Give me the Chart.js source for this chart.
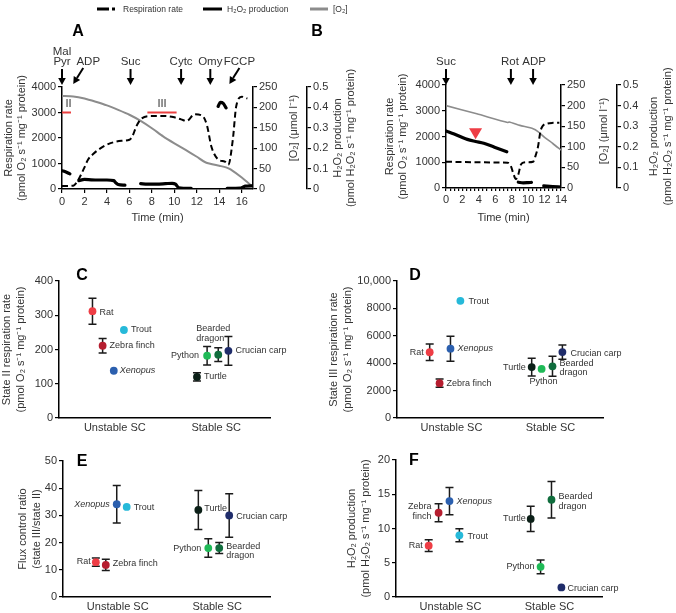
<!DOCTYPE html>
<html>
<head>
<meta charset="utf-8">
<script src="https://cdn.jsdelivr.net/npm/chart.js@4/dist/chart.umd.min.js"></script>
<style>
  body { margin: 0; background: #fff; width: 676px; height: 613px; overflow: hidden; position: relative; }
  canvas { position: absolute; left: 0; top: 0; }
</style>
</head>
<body>
<canvas id="cA" width="676" height="613"></canvas>
<canvas id="cB" width="676" height="613"></canvas>
<canvas id="cC" width="676" height="613"></canvas>
<canvas id="cD" width="676" height="613"></canvas>
<canvas id="cE" width="676" height="613"></canvas>
<canvas id="cF" width="676" height="613"></canvas>
<script>
// ---------- data: panel A traces ----------
const respTimeA = [0, 0.5, 1.0, 1.3, 1.6, 2.0, 2.3, 2.8, 3.2, 4.1, 5.3, 6.0, 6.3, 6.6, 7.1, 8.0, 9.2, 10.0, 10.6, 11.1, 11.8, 12.5, 12.9, 13.3, 13.9, 14.5, 14.8, 15.2, 15.5, 16.0, 16.5];
const respA     = [120, 120, 130, 250, 480, 850, 1140, 1380, 1530, 1760, 1890, 1930, 2100, 2440, 2770, 2860, 2860, 2810, 2730, 2670, 2930, 2870, 2500, 1660, 1160, 1070, 950, 1920, 3230, 3620, 3550];
const h2o2TimeA = [0, 0.35, 0.7, 1.1, 1.5, 2.0, 2.6, 3.2, 4.0, 4.6, 4.8, 5.0, 5.6, 6.3, 7.0, 7.6, 8.4, 9.2, 9.8, 10.1, 10.4, 11.5, 12.7, 13.9, 14.1, 14.35, 14.6, 14.62, 14.7, 15.9, 16.3, 17];
const h2o2A     = [0.090, 0.083, 0.074, null, 0.041, 0.047, 0.045, 0.044, 0.044, 0.041, 0.030, 0.022, 0.019, null, 0.026, 0.024, 0.024, 0.026, 0.028, 0.024, 0.006, 0.003, null, 0.405, 0.425, 0.42, 0.398, null, 0.003, 0.004, 0.014, 0.016];
const o2TimeA   = [0, 1, 2, 3, 4, 5, 6, 7, 8, 9, 10, 11, 12, 12.8, 14, 14.6, 15, 16, 17];
const o2A       = [228, 227, 222, 214, 205, 194, 182, 167, 149, 129, 112, 96, 79, 65, 57, 53, 48, 28, 5];
const eventTimesA  = [0, 1.0, 6.1, 10.6, 13.2, 14.9];
const eventLabelsA = [['Mal', 'Pyr'], ['ADP'], ['Suc'], ['Cytc'], ['Omy'], ['FCCP']];
const stateLabelsA = ['II', 'III'];
const stateStartA  = [0, 7.6];
const stateEndA    = [0.8, 10.2];
const stateLevelA  = 3000;

// ---------- data: panel B traces ----------
const respTimeB = [0, 2, 4, 6, 7.5, 7.9, 8.2, 8.5, 8.8, 9.1, 9.4, 10.0, 10.6, 10.9, 11.2, 11.5, 11.8, 12.3, 13.0, 13.8];
const respB     = [1020, 1010, 1000, 990, 985, 850, 560, 350, 520, 900, 985, 1000, 1020, 1250, 1600, 2200, 2420, 2500, 2530, 2535];
const h2o2TimeB = [0, 1, 2, 2.6, 3.6, 4.6, 5.9, 7.4, 8.1, 8.8, 9.4, 10.0, 10.4, 11.1, 11.9, 13, 14];
const h2o2B     = [0.277, 0.262, 0.245, 0.236, 0.226, 0.217, 0.198, 0.176, null, 0.028, 0.025, 0.026, 0.027, null, 0.010, 0.007, 0.004];
const o2TimeB   = [0, 3.75, 7.5, 7.7, 9, 10.6, 11.2, 12, 13, 14];
const o2B       = [200, 180, 159, 160, 152, 144, 137, 123, 108, 92];
const eventTimesB  = [0, 7.9, 10.6];
const eventLabelsB = [['Suc'], ['Rot'], ['ADP']];
const markerTimeB  = 3.6;
const markerLevelB = 0.232;

// ---------- data: panels C-F ----------
const groups   = ['Unstable SC', 'Stable SC'];
const species  = ['Rat', 'Zebra finch', 'Xenopus', 'Trout', 'Turtle', 'Python', 'Bearded dragon', 'Crucian carp'];
const speciesX = [0.78, 0.88, 0.99, 1.09, 1.81, 1.91, 2.02, 2.12];
const speciesColors = ['#ee3d45', '#b51d2f', '#2b5fae', '#26b9d9', '#0c2018', '#1fba57', '#106d3d', '#1f2c6a'];
const stateII     = [312, 211, 138, 257, 120, 182, 185, 196];
const stateIIErr  = [38, 21, 0, 0, 12, 27, 20, 42];
const stateIII    = [4800, 2540, 5060, 8550, 3720, 3580, 3770, 4810];
const stateIIIErr = [600, 300, 910, 0, 650, 0, 730, 520];
const fluxRatio    = [12.8, 11.8, 34.1, 33.1, 32.0, 18.0, 18.0, 30.0];
const fluxRatioErr = [1.5, 2.1, 6.9, 0, 7.2, 3.4, 2.0, 8.0];
const h2o2Rate    = [7.5, 12.3, 14.0, 9.0, 11.4, 4.4, 14.2, 1.4];
const h2o2RateErr = [0.85, 1.3, 2.0, 0.95, 1.85, 1.0, 2.65, 0];

// ---------- helpers ----------
const FONT = '"Liberation Sans", Arial, sans-serif';
const INK = '#333';
const W = 676, H = 613;
const RESP_T = ['Respiration rate', '(pmol O\u2082 s\u207B\u00B9 mg\u207B\u00B9 protein)'];
const O2_T = '[O\u2082] (\u03BCmol l\u207B\u00B9)';
const H2O2_T = ['H\u2082O\u2082 production', '(pmol H\u2082O\u2082 s\u207B\u00B9 mg\u207B\u00B9 protein)'];

const xy = (xs, ys) => xs.map((x, i) => ({ x: x, y: ys[i] }));

function txt(ctx, s, x, y, o) {
  o = o || {};
  ctx.save();
  ctx.font = (o.style || '') + ' ' + (o.weight || '') + ' ' + (o.size || 11) + 'px ' + FONT;
  ctx.fillStyle = o.color || INK;
  ctx.textAlign = o.align || 'center';
  ctx.textBaseline = 'middle';
  ctx.translate(x, y);
  if (o.rot) ctx.rotate(o.rot);
  ctx.fillText(s, 0, 0);
  ctx.restore();
}
function vtitle(ctx, lines, xs, y) {
  lines.forEach((l, i) => txt(ctx, l, xs[i], y, { rot: -Math.PI / 2 }));
}
function arrow(ctx, x0, y0, x1, y1) {
  const a = Math.atan2(y1 - y0, x1 - x0), L = 7, hw = 3.8;
  const bx = x1 - L * Math.cos(a), by = y1 - L * Math.sin(a);
  ctx.save();
  ctx.strokeStyle = '#000'; ctx.fillStyle = '#000'; ctx.lineWidth = 2;
  ctx.beginPath(); ctx.moveTo(x0, y0); ctx.lineTo(bx, by); ctx.stroke();
  ctx.beginPath(); ctx.moveTo(x1, y1);
  ctx.lineTo(bx - hw * Math.sin(a), by + hw * Math.cos(a));
  ctx.lineTo(bx + hw * Math.sin(a), by - hw * Math.cos(a));
  ctx.closePath(); ctx.fill();
  ctx.restore();
}

function yAxis(pos, min, max, step, width, fmt) {
  return {
    type: 'linear', position: pos, min: min, max: max,
    ticks: { stepSize: step, color: INK, font: { family: FONT, size: 11 }, padding: 2, includeBounds: false,
             callback: fmt || (v => String(v)) },
    grid: { drawOnChartArea: false, drawTicks: true, tickLength: 4, color: '#000', lineWidth: 1.2 },
    border: { display: true, color: '#000', width: 1.5 },
    afterFit: s => { s.width = width; }
  };
}
const fmtFrac = v => (v === 0 ? '0' : v.toFixed(1));

// ---------- trace panels (A, B) ----------
function traceChart(id, p) {
  const annot = {
    id: 'annot' + id,
    afterDraw(chart) {
      const ctx = chart.ctx, sx = chart.scales.x, sy = chart.scales.y, sh = chart.scales.yH;
      const ca = chart.chartArea, mid = (ca.top + ca.bottom) / 2;
      vtitle(ctx, RESP_T, p.titleL, mid);
      txt(ctx, O2_T, p.titleO, p.titleOY, { rot: -Math.PI / 2 });
      vtitle(ctx, H2O2_T, p.titleH, mid);
      txt(ctx, 'Time (min)', (ca.left + ca.right) / 2, 218);
      txt(ctx, p.letter[0], p.letter[1], p.letter[2], { size: 16, weight: 'bold', color: '#000' });
      p.evT.forEach((t, i) => {
        const x = sx.getPixelForValue(t), dx = p.evDx[i];
        const lab = p.evL[i];
        lab.forEach((s, k) => txt(ctx, s, x + dx, 62 - (lab.length - 1 - k) * 10.5, { size: 11.5 }));
        if (p.evDiag[i]) arrow(ctx, x + 10, 68, x, 84);
        else arrow(ctx, x, 69, x, 85);
      });
      if (p.extra) p.extra(ctx, sx, sy, sh);
    }
  };
  return new Chart(document.getElementById(id), {
    type: 'line',
    data: {
      datasets: [
        { label: 'Respiration rate', data: xy(p.respT, p.resp), yAxisID: 'y', borderColor: '#000', borderWidth: 2,
          borderDash: [6, 3.5], pointRadius: 0, cubicInterpolationMode: 'monotone', spanGaps: false },
        { label: 'H\u2082O\u2082 production', data: xy(p.hT, p.h), yAxisID: 'yH', borderColor: '#000', borderWidth: 3.2,
          pointRadius: 0, cubicInterpolationMode: 'monotone', spanGaps: false, borderCapStyle: 'round' },
        { label: '[O\u2082]', data: xy(p.oT, p.o), yAxisID: 'yO', borderColor: '#8c8c8c', borderWidth: p.o2w,
          pointRadius: 0, tension: 0.2, spanGaps: false }
      ]
    },
    options: {
      responsive: false, animation: false, events: [],
      layout: { padding: { left: p.area[0] - 40, top: p.area[2], right: W - p.area[1] - p.wO - 30, bottom: H - p.area[3] - 22 } },
      plugins: { legend: { display: false }, tooltip: { enabled: false } },
      scales: {
        y: yAxis('left', 0, 4000, 1000, 40),
        yO: yAxis('right', 0, 250, 50, p.wO),
        yH: yAxis('right', 0, 0.5, 0.1, 30, fmtFrac),
        x: {
          type: 'linear', position: 'bottom', min: 0, max: p.xMax,
          ticks: { stepSize: p.xStep, autoSkip: false, maxRotation: 0, minRotation: 0, includeBounds: false,
                   color: INK, font: { family: FONT, size: 11 }, padding: 2,
                   callback: v => (Math.abs(v % 2) < 1e-9 ? String(v) : '') },
          grid: { drawOnChartArea: false, drawTicks: true, tickLength: p.xTick, color: '#000', lineWidth: 1.2 },
          border: { display: true, color: '#000', width: 1.5 },
          afterFit: s => { s.height = 22; }
        }
      }
    },
    plugins: [annot]
  });
}

traceChart('cA', {
  respT: respTimeA, resp: respA, hT: h2o2TimeA, h: h2o2A, oT: o2TimeA, o: o2A, o2w: 2,
  area: [62, 253, 87, 189], wO: 54, xMax: 17, xStep: 2, xTick: 4,
  evT: eventTimesA, evL: eventLabelsA, evDiag: [false, true, false, false, false, true], evDx: [0, 15, 0, 0, 0, 10],
  letter: ['A', 78, 32], titleL: [9, 22], titleO: 294, titleOY: 128, titleH: [338, 351],
  extra(ctx, sx, sy) {
    // state II / III marks
    stateLabelsA.forEach((s, i) => {
      const x0 = sx.getPixelForValue(stateStartA[i]), x1 = sx.getPixelForValue(stateEndA[i]);
      const y = sy.getPixelForValue(stateLevelA);
      ctx.save(); ctx.strokeStyle = '#ea4040'; ctx.lineWidth = 2;
      ctx.beginPath(); ctx.moveTo(x0, y); ctx.lineTo(x1, y); ctx.stroke(); ctx.restore();
      txt(ctx, s, (x0 + x1) / 2 + (i === 0 ? 2 : 0), y - 9, { size: 11 });
    });
    // legend
    ctx.save();
    ctx.strokeStyle = '#000'; ctx.lineWidth = 3; ctx.setLineDash([12, 3, 3, 20]);
    ctx.beginPath(); ctx.moveTo(97, 9); ctx.lineTo(115, 9); ctx.stroke();
    ctx.setLineDash([]);
    ctx.beginPath(); ctx.moveTo(203, 9); ctx.lineTo(222, 9); ctx.stroke();
    ctx.strokeStyle = '#8c8c8c';
    ctx.beginPath(); ctx.moveTo(310, 9); ctx.lineTo(328, 9); ctx.stroke();
    ctx.restore();
    txt(ctx, 'Respiration rate', 123, 9.5, { size: 8.5, align: 'left' });
    txt(ctx, 'H\u2082O\u2082 production', 227, 9.5, { size: 8.5, align: 'left' });
    txt(ctx, '[O\u2082]', 333, 9.5, { size: 8.5, align: 'left' });
  }
});

traceChart('cB', {
  respT: respTimeB, resp: respB, hT: h2o2TimeB, h: h2o2B, oT: o2TimeB, o: o2B, o2w: 1.6,
  area: [446, 561, 85, 188], wO: 56, xMax: 14, xStep: 0.5, xTick: 3,
  evT: eventTimesB, evL: eventLabelsB, evDiag: [false, false, false], evDx: [0, -1, 1],
  letter: ['B', 317, 32], titleL: [390, 403], titleO: 604, titleOY: 131, titleH: [654, 668],
  extra(ctx, sx, sy, sh) {
    const x = sx.getPixelForValue(markerTimeB), y = sh.getPixelForValue(markerLevelB) - 1;
    ctx.save(); ctx.fillStyle = '#ee3d45';
    ctx.beginPath(); ctx.moveTo(x, y); ctx.lineTo(x - 6.5, y - 11); ctx.lineTo(x + 6.5, y - 11); ctx.closePath(); ctx.fill();
    ctx.restore();
  }
});

// ---------- dot panels (C-F) ----------
function dotChart(id, p) {
  const deco = {
    id: 'deco' + id,
    beforeDatasetsDraw(chart) {
      const ctx = chart.ctx, sx = chart.scales.x, sy = chart.scales.y;
      ctx.save(); ctx.strokeStyle = '#1a1a1a'; ctx.lineWidth = 1.5;
      p.vals.forEach((v, i) => {
        const e = p.errs[i];
        if (!e) return;
        const x = sx.getPixelForValue(speciesX[i]);
        const y0 = sy.getPixelForValue(v - e), y1 = sy.getPixelForValue(v + e);
        ctx.beginPath();
        ctx.moveTo(x, y0); ctx.lineTo(x, y1);
        ctx.moveTo(x - 4, y0); ctx.lineTo(x + 4, y0);
        ctx.moveTo(x - 4, y1); ctx.lineTo(x + 4, y1);
        ctx.stroke();
      });
      ctx.restore();
    },
    afterDraw(chart) {
      const ctx = chart.ctx, sx = chart.scales.x, sy = chart.scales.y, ca = chart.chartArea;
      p.vals.forEach((v, i) => {
        const st = p.lab[i];
        const px = sx.getPixelForValue(speciesX[i]), py = sy.getPixelForValue(v);
        const lines = st[3] ? species[i].split(' ') : [species[i]];
        lines.forEach((ln, k) => txt(ctx, ln, px + st[0], py + st[1] + k * 9.5,
          { size: 9, align: st[2], style: species[i] === 'Xenopus' ? 'italic' : '' }));
      });
      vtitle(ctx, p.title, p.titleX, (ca.top + ca.bottom) / 2);
      txt(ctx, p.letter[0], p.letter[1], p.letter[2], { size: 16, weight: 'bold', color: '#000' });
    }
  };
  return new Chart(document.getElementById(id), {
    type: 'scatter',
    data: {
      datasets: [{ data: xy(speciesX, p.vals), pointBackgroundColor: speciesColors, pointBorderWidth: 0, pointRadius: 3.9 }]
    },
    options: {
      responsive: false, animation: false, events: [],
      layout: { padding: { left: p.area[0] - 40, top: p.area[2], right: W - p.area[1], bottom: H - p.area[3] - 14 } },
      plugins: { legend: { display: false }, tooltip: { enabled: false } },
      scales: {
        y: yAxis('left', 0, p.yMax, p.yStep, 40, p.fmt),
        x: {
          type: 'linear', position: 'bottom', min: 0.45, max: 2.53,
          afterBuildTicks: s => { s.ticks = [{ value: 1 }, { value: 2 }]; },
          ticks: { maxRotation: 0, minRotation: 0, autoSkip: false, color: INK, font: { family: FONT, size: 11 }, padding: 3,
                   callback: v => groups[Math.round(v) - 1] },
          grid: { drawOnChartArea: false, drawTicks: false },
          border: { display: true, color: '#000', width: 1.5 },
          afterFit: s => { s.height = 14; }
        }
      }
    },
    plugins: [deco]
  });
}

dotChart('cC', {
  vals: stateII, errs: stateIIErr, area: [59, 270, 281, 418], yMax: 400, yStep: 100,
  title: ['State II respiration rate', '(pmol O\u2082 s\u207B\u00B9 mg\u207B\u00B9 protein)'], titleX: [7, 21], letter: ['C', 82, 276],
  lab: [[7, 1, 'left'], [7, 0, 'left'], [6, 0, 'left'], [7, 0, 'left'], [7, 0, 'left'], [-8, 0, 'right'], [-22, -26, 'left', true], [7, 0, 'left']]
});
dotChart('cD', {
  vals: stateIII, errs: stateIIIErr, area: [397, 603, 281, 418], yMax: 10000, yStep: 2000,
  fmt: v => (v === 10000 ? '10,000' : String(v)),
  title: ['State III respiration rate', '(pmol O\u2082 s\u207B\u00B9 mg\u207B\u00B9 protein)'], titleX: [334, 348], letter: ['D', 415, 276],
  lab: [[-6, 0, 'right'], [7, 0, 'left'], [7, 0, 'left'], [8, 1, 'left'], [-6, 0, 'right'], [2, 13, 'center'], [7, -3, 'left', true], [8, 1, 'left']]
});
dotChart('cE', {
  vals: fluxRatio, errs: fluxRatioErr, area: [63, 270, 461, 597], yMax: 50, yStep: 10,
  title: ['Flux control ratio', '(state III/state II)'], titleX: [23, 37], letter: ['E', 82, 462],
  lab: [[-5, -1, 'right'], [7, -1, 'left'], [-7, 0, 'right'], [7, 1, 'left'], [6, -1, 'left'], [-7, 0, 'right'], [7, -2, 'left', true], [7, 1, 'left']]
});
dotChart('cF', {
  vals: h2o2Rate, errs: h2o2RateErr, area: [396, 602, 460, 597], yMax: 20, yStep: 5,
  title: H2O2_T, titleX: [352, 366], letter: ['F', 414, 461],
  lab: [[-6, 0, 'right'], [-7, -6, 'right', true], [7, 0, 'left'], [8, 1, 'left'], [-5, 0, 'right'], [-6, 0, 'right'], [7, -3, 'left', true], [6, 1, 'left']]
});
</script>
</body>
</html>
